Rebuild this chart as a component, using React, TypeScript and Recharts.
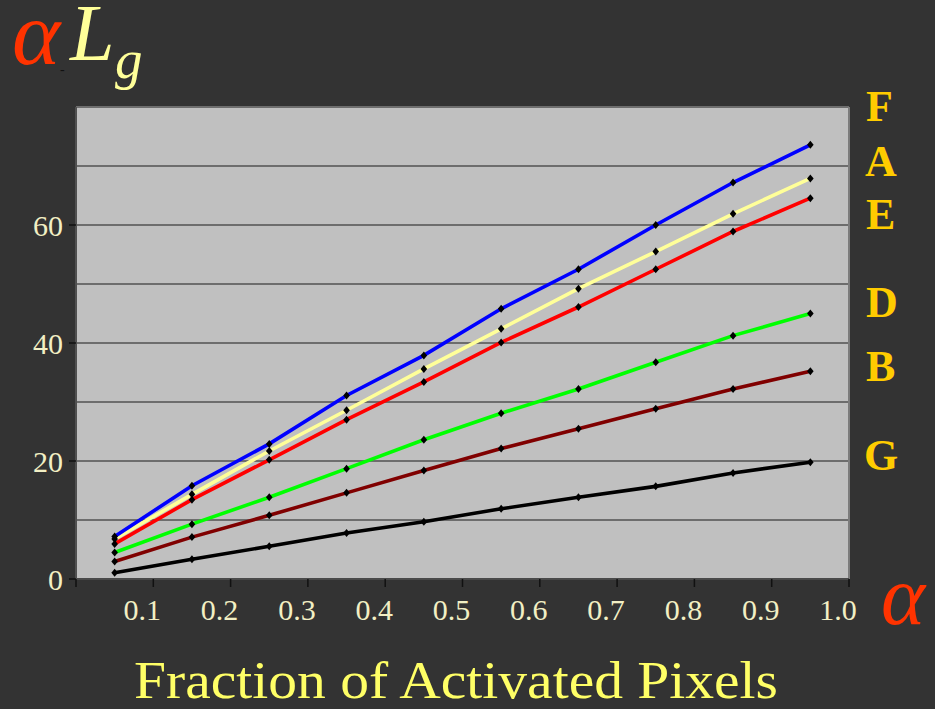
import React from "react";
import { LineChart, Line, XAxis, YAxis, CartesianGrid, ReferenceLine } from "recharts";

const alphaValues = [0.05, 0.15, 0.25, 0.35, 0.45, 0.55, 0.65, 0.75, 0.85, 0.95];
const seriesF = [7.2, 15.8, 22.9, 31.1, 37.9, 45.8, 52.5, 60.0, 67.2, 73.6];
const seriesA = [6.8, 14.35, 21.7, 28.6, 35.6, 42.4, 49.2, 55.5, 61.9, 67.9];
const seriesE = [5.95, 13.45, 20.2, 27.0, 33.4, 40.1, 46.1, 52.5, 58.9, 64.55];
const seriesD = [4.5, 9.3, 13.85, 18.7, 23.6, 28.1, 32.2, 36.75, 41.25, 45.0];
const seriesB = [2.96, 7.1, 10.8, 14.6, 18.4, 22.1, 25.45, 28.85, 32.2, 35.2];
const seriesG = [1.05, 3.35, 5.55, 7.8, 9.7, 11.9, 13.85, 15.7, 17.97, 19.8];

const xTicks = [0, 0.1, 0.2, 0.3, 0.4, 0.5, 0.6, 0.7, 0.8, 0.9, 1.0];
const yTicks = [0, 10, 20, 30, 40, 50, 60, 70, 80];
const yLabelled = [0, 20, 40, 60];

const seriesNames = ["F", "A", "E", "D", "B", "G"];
const xTitle = "Fraction of Activated Pixels";

const data = alphaValues.map((a, i) => ({
  alpha: a,
  F: seriesF[i],
  A: seriesA[i],
  E: seriesE[i],
  D: seriesD[i],
  B: seriesB[i],
  G: seriesG[i],
}));

const FONT = "'Liberation Serif', 'Times New Roman', serif";
const TICK_COLOR = "#f2efc4";

const makeDot = (name: string) => (props: any) => {
  const { cx, cy, index } = props;
  if (cx == null || cy == null) return <g key={`${name}-${index}`} />;
  return (
    <path
      key={`${name}-${index}`}
      d={`M${cx},${cy - 4}L${cx + 3.3},${cy}L${cx},${cy + 4}L${cx - 3.3},${cy}Z`}
      fill="#000"
    />
  );
};

const XTick = (props: any) => {
  const { x, y, payload } = props;
  const v = payload.value as number;
  if (v === 0) return <g />;
  return (
    <text x={x - 11} y={y + 31} textAnchor="middle" fontSize={30} fontFamily={FONT} fill={TICK_COLOR}>
      {v.toFixed(1)}
    </text>
  );
};

const YTick = (props: any) => {
  const { y, payload } = props;
  const v = payload.value as number;
  if (!yLabelled.includes(v)) return <g />;
  return (
    <g>
      <line x1={69} x2={76} y1={y} y2={y} stroke="#111" strokeWidth={1.5} />
      <text x={63} y={y + 10.5} textAnchor="end" fontSize={30} fontFamily={FONT} fill={TICK_COLOR}>
        {String(v)}
      </text>
    </g>
  );
};

const lines = [
  { key: "G", color: "#000000" },
  { key: "B", color: "#800000" },
  { key: "D", color: "#00ff00" },
  { key: "E", color: "#ff0000" },
  { key: "A", color: "#ffff99" },
  { key: "F", color: "#0000ff" },
];

const labelBaselines: Record<string, { x: number; y: number }> = {
  F: { x: 866, y: 121 },
  A: { x: 865, y: 176 },
  E: { x: 866, y: 229 },
  D: { x: 866, y: 317 },
  B: { x: 866, y: 381 },
  G: { x: 864, y: 470 },
};

export default function App() {
  return (
    <div
      style={{
        position: "absolute",
        left: 0,
        top: 0,
        width: 935,
        height: 709,
        background: "#333333",
        overflow: "hidden",
      }}
    >
      <LineChart width={935} height={709} data={data} margin={{ top: 107, right: 86, left: 0, bottom: 0 }}>
        <CartesianGrid vertical={false} stroke="#1a1a1a" strokeWidth={1.2} fill="#c0c0c0" fillOpacity={1} />
        <XAxis
          dataKey="alpha"
          type="number"
          domain={[0, 1]}
          ticks={xTicks}
          interval={0}
          height={130}
          tickSize={8}
          tickLine={{ stroke: "#111", strokeWidth: 1.5 }}
          axisLine={{ stroke: "#4a4a4a", strokeWidth: 2 }}
          tick={<XTick />}
        />
        <YAxis
          type="number"
          domain={[0, 80]}
          ticks={yTicks}
          interval={0}
          width={76}
          tickLine={false}
          axisLine={{ stroke: "#505050", strokeWidth: 2 }}
          tick={<YTick />}
        />
        <ReferenceLine y={80} stroke="#6e6e6e" strokeWidth={2} />
        <ReferenceLine x={1} stroke="#7c7c7c" strokeWidth={2} />
        {lines.map((l) => (
          <Line
            key={l.key}
            type="linear"
            dataKey={l.key}
            stroke={l.color}
            strokeWidth={3.6}
            dot={makeDot(l.key)}
            activeDot={false}
            isAnimationActive={false}
          />
        ))}
      </LineChart>
      <svg
        width={935}
        height={709}
        style={{ position: "absolute", left: 0, top: 0, pointerEvents: "none" }}
      >
        <text x={12} y={64} fontSize={92} fontStyle="italic" fontFamily={FONT} fill="#ff3300">
          α
        </text>
        <text x={60} y={74} fontSize={14} fontFamily={FONT} fill="#111">
          -
        </text>
        <text x={70} y={60} fontSize={80} fontStyle="italic" fontFamily={FONT} fill="#ffff99">
          L
        </text>
        <text x={115} y={78} fontSize={55} fontStyle="italic" fontFamily={FONT} fill="#ffff99">
          g
        </text>
        <text x={881} y={624} fontSize={84} fontStyle="italic" fontFamily={FONT} fill="#ff3300">
          α
        </text>
        <text
          x={134}
          y={698}
          fontSize={53}
          fontFamily={FONT}
          fill="#ffff66"
          textLength={644}
          lengthAdjust="spacingAndGlyphs"
        >
          {xTitle}
        </text>
        {seriesNames.map((n) => (
          <text
            key={n}
            x={labelBaselines[n].x}
            y={labelBaselines[n].y}
            fontSize={44}
            fontWeight="bold"
            fontFamily={FONT}
            fill="#ffcc00"
          >
            {n}
          </text>
        ))}
      </svg>
    </div>
  );
}
